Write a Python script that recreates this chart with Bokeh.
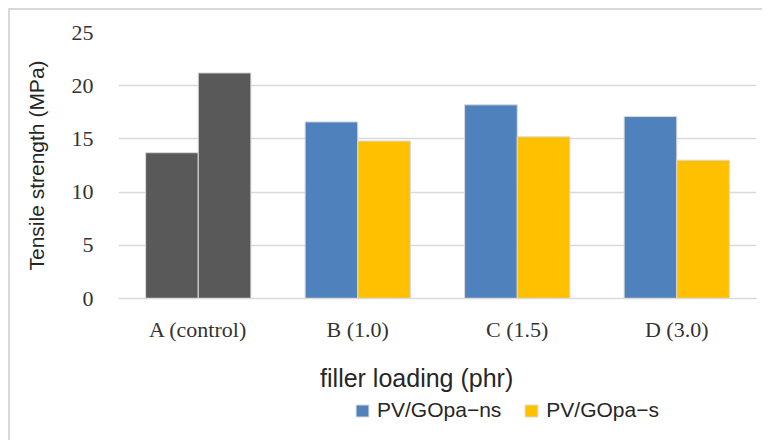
from bokeh.plotting import figure
from bokeh.layouts import column
from bokeh.models import ColumnDataSource, FactorRange, Range1d, FixedTicker, Legend, LegendItem
from bokeh.transform import dodge
from bokeh.embed import file_html
from bokeh.resources import INLINE

categories = ["A (control)", "B (1.0)", "C (1.5)", "D (3.0)"]
ns_values = [13.7, 16.6, 18.2, 17.1]
s_values = [21.2, 14.8, 15.2, 13.0]
series_names = ["PV/GOpa\u2212ns", "PV/GOpa\u2212s"]
x_title = "filler loading (phr)"
y_title = "Tensile strength (MPa)"
y_ticks = [0, 5, 10, 15, 20, 25]

GRAY = "#595959"
BLUE = "#4f81bd"
YELLOW = "#ffc000"
ns_colors = [GRAY, BLUE, BLUE, BLUE]
s_colors = [GRAY, YELLOW, YELLOW, YELLOW]

source = ColumnDataSource(data=dict(cat=categories, ns=ns_values, s=s_values,
                                    ns_c=ns_colors, s_c=s_colors))

# ---- main chart ----
p = figure(x_range=FactorRange(*categories), y_range=Range1d(0, 25),
           width=752, height=384, output_backend="svg", toolbar_location=None,
           min_border_left=108, min_border_right=6, min_border_top=22, min_border_bottom=96)
p.outline_line_color = None
p.background_fill_color = "white"
p.border_fill_color = "white"

p.vbar(x=dodge("cat", -0.165, range=p.x_range), top="ns", width=0.33, source=source,
       fill_color="ns_c", line_color="#d9d9d9", line_width=1)
p.vbar(x=dodge("cat", 0.165, range=p.x_range), top="s", width=0.33, source=source,
       fill_color="s_c", line_color="#d9d9d9", line_width=1)

p.xgrid.grid_line_color = None
p.ygrid.grid_line_color = "#d9d9d9"
p.ygrid.grid_line_width = 1.5
p.ygrid.ticker = FixedTicker(ticks=y_ticks)

p.yaxis.ticker = FixedTicker(ticks=y_ticks)
p.yaxis.axis_line_color = None
p.yaxis.major_tick_line_color = None
p.yaxis.minor_tick_line_color = None
p.yaxis.major_label_text_font = "Liberation Serif"
p.yaxis.major_label_text_font_size = "22px"
p.yaxis.major_label_text_color = "#333333"
p.yaxis.major_label_standoff = 19
p.yaxis.axis_label = y_title
p.yaxis.axis_label_text_font = "Liberation Sans"
p.yaxis.axis_label_text_font_size = "21px"
p.yaxis.axis_label_text_font_style = "normal"
p.yaxis.axis_label_text_color = "#262626"
p.yaxis.axis_label_standoff = 21

p.xaxis.axis_line_color = "#d9d9d9"
p.xaxis.axis_line_width = 1.5
p.xaxis.major_tick_line_color = None
p.xaxis.minor_tick_line_color = None
p.xaxis.major_label_text_font = "Liberation Serif"
p.xaxis.major_label_text_font_size = "22px"
p.xaxis.major_label_text_color = "#333333"
p.xaxis.major_label_standoff = 12
# trailing no-break spaces move the centred title slightly left, as in the reference
p.xaxis.axis_label = x_title + "\u00a0" * 6
p.xaxis.axis_label_text_font = "Liberation Sans"
p.xaxis.axis_label_text_font_size = "25px"
p.xaxis.axis_label_text_font_style = "normal"
p.xaxis.axis_label_text_color = "#262626"
p.xaxis.axis_label_standoff = 19

# ---- legend strip (its bars lie outside its view; only the legend shows) ----
p2 = figure(x_range=p.x_range, y_range=Range1d(100, 200),
            width=752, height=46, output_backend="svg", toolbar_location=None,
            x_axis_location=None, y_axis_location=None,
            min_border_left=0, min_border_right=0, min_border_top=0, min_border_bottom=0)
p2.outline_line_color = None
p2.background_fill_color = "white"
p2.border_fill_color = "white"
p2.grid.visible = False

q1 = p2.vbar(x=dodge("cat", -0.165, range=p2.x_range), top="ns", width=0.33, source=source,
             fill_color="ns_c", line_color="#d9d9d9", line_width=1)
q2 = p2.vbar(x=dodge("cat", 0.165, range=p2.x_range), top="s", width=0.33, source=source,
             fill_color="s_c", line_color="#d9d9d9", line_width=1)

legend = Legend(items=[LegendItem(label=series_names[0], renderers=[q1], index=1),
                       LegendItem(label=series_names[1], renderers=[q2], index=1)],
                location=(236, 18), orientation="horizontal",
                label_text_font="Liberation Sans", label_text_font_size="21px",
                label_text_color="#262626", glyph_width=16, glyph_height=15,
                label_standoff=7, spacing=22, padding=0, margin=0,
                border_line_color=None, background_fill_alpha=0)
p2.add_layout(legend)

layout = column(p, p2, spacing=0,
                styles={"transform": "translate(8px, 8px)",
                        "border-left": "2px solid #d9d9d9", "border-top": "2px solid #d9d9d9"})

open("out.html", "w").write(file_html(layout, INLINE))
